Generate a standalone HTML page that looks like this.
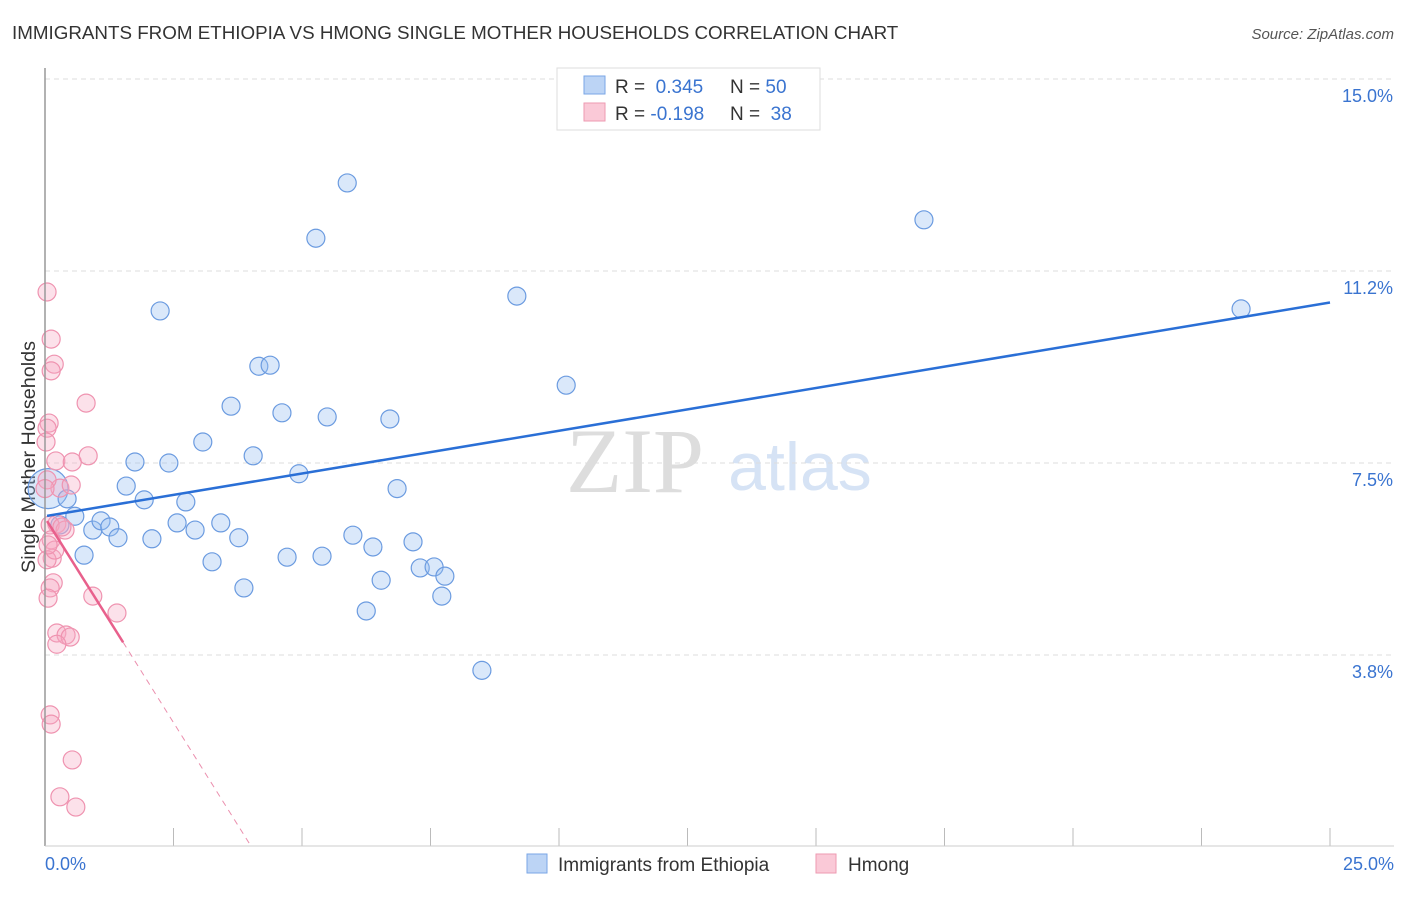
<!DOCTYPE html>
<html><head><meta charset="utf-8"><style>
body{margin:0;background:#fff;font-family:"Liberation Sans",sans-serif;}
</style></head><body>
<svg id="c" width="1406" height="892" xmlns="http://www.w3.org/2000/svg">
<text x="12" y="39" font-size="18.8" fill="#333">IMMIGRANTS FROM ETHIOPIA VS HMONG SINGLE MOTHER HOUSEHOLDS CORRELATION CHART</text>
<text x="1394" y="39" font-size="15" fill="#555" font-style="italic" text-anchor="end">Source: ZipAtlas.com</text>
<text x="35" y="457" font-size="19.8" fill="#333" transform="rotate(-90 35 457)" text-anchor="middle">Single Mother Households</text>
<text x="635" y="492" font-size="92" fill="#ddd" font-family="Liberation Serif" text-anchor="middle">ZIP</text>
<text x="800" y="490" font-size="68" fill="#d6e3f5" text-anchor="middle">atlas</text>
<g id="grid"></g><g id="pts"></g><g id="lines"></g>
<line x1="45" y1="68" x2="45" y2="846" stroke="#999" stroke-width="1.5"/>
<line x1="45" y1="846" x2="1394" y2="846" stroke="#ccc"/>
<text x="45" y="870" font-size="18" fill="#3a74d0">0.0%</text>
<text x="1394" y="870" font-size="18" fill="#3a74d0" text-anchor="end">25.0%</text>
<g>
<rect x="557" y="68" width="263" height="62" fill="#fff" stroke="#ddd"/>
<rect x="584" y="76" width="21" height="18" fill="#bcd4f5" stroke="#7aa6e6"/>
<rect x="584" y="103" width="21" height="18" fill="#fac9d7" stroke="#ee9ab2"/>
<text x="615" y="93" font-size="19" fill="#333">R = <tspan fill="#3a74d0">&#160;0.345</tspan><tspan x="730">N = </tspan><tspan fill="#3a74d0">50</tspan></text>
<text x="615" y="120" font-size="19" fill="#333">R = <tspan fill="#3a74d0">-0.198</tspan><tspan x="730">N = </tspan><tspan fill="#3a74d0">&#160;38</tspan></text>
</g>
<g>
<rect x="527" y="854" width="20" height="19" fill="#bcd4f5" stroke="#7aa6e6"/>
<text x="558" y="871" font-size="19" fill="#333">Immigrants from Ethiopia</text>
<rect x="816" y="854" width="20" height="19" fill="#fac9d7" stroke="#ee9ab2"/>
<text x="848" y="871" font-size="19" fill="#333">Hmong</text>
</g>
</svg>
<script>
const yTicks=[15.0,11.25,7.5,3.75];
const yTickLabels=["15.0%","11.2%","7.5%","3.8%"];
const xTicks=[2.5,5,7.5,10,12.5,15,17.5,20,22.5,25];
const ethX=[0.06,0.43,0.58,0.76,0.93,1.09,1.26,1.42,1.58,1.75,1.93,2.08,2.24,2.41,2.57,2.74,2.92,3.07,3.25,3.42,3.62,3.77,3.87,4.05,4.16,4.38,4.61,4.71,4.94,5.27,5.39,5.49,5.88,5.99,6.25,6.38,6.54,6.71,6.85,7.16,7.30,7.57,7.72,7.78,8.50,9.18,10.14,17.10,23.27,0.29];
const ethY=[7.0,6.8,6.46,5.7,6.19,6.37,6.25,6.04,7.05,7.52,6.78,6.02,10.47,7.50,6.33,6.74,6.19,7.91,5.57,6.33,8.61,6.04,5.06,7.64,9.39,9.41,8.48,5.66,7.29,11.89,5.68,8.40,12.97,6.09,4.61,5.86,5.21,8.36,7.00,5.96,5.45,5.47,4.90,5.29,3.45,10.76,9.02,12.25,10.51,6.29];
const hmX=[0.04,0.12,0.18,0.12,0.08,0.04,0.02,0.80,0.21,0.84,0.53,0.29,0.51,0.04,0.23,0.10,0.39,0.12,0.14,0.04,0.16,0.10,0.06,0.93,1.40,0.23,0.41,0.49,0.23,0.10,0.12,0.53,0.29,0.60,0.19,0.06,0.33,0.0];
const hmY=[10.84,9.92,9.43,9.3,8.28,8.18,7.91,8.67,7.54,7.64,7.52,7.01,7.07,7.17,6.31,6.29,6.19,6.0,5.64,5.61,5.16,5.06,4.86,4.90,4.57,4.18,4.14,4.10,3.96,2.58,2.40,1.70,0.98,0.78,5.80,5.90,6.25,7.0];
const ethFit=[6.46,0.167];
const hmFit=[6.43,-1.6];
const solidEndHm=1.52, dashEndHm=3.99;
const X=v=>45+v*51.4, Y=v=>847-v*51.2;
const NS="http://www.w3.org/2000/svg";
function mk(t,a,p){const e=document.createElementNS(NS,t);for(const k in a)e.setAttribute(k,a[k]);document.getElementById(p).appendChild(e);return e;}
yTicks.forEach((t,i)=>{
 const l=mk('line',{x1:45,x2:1394,y1:Y(t),y2:Y(t),stroke:'#ddd','stroke-dasharray':'5,4'},'grid');
 
 
 const tx=mk('text',{x:1393,y:Y(t)+23,'font-size':18,fill:'#3a74d0','text-anchor':'end'},'grid');
 tx.textContent=yTickLabels[i];
 
 
});
xTicks.forEach(t=>{
 const l=mk('line',{x1:X(t),x2:X(t),y1:828,y2:846,stroke:'#bbb'},'grid');
 
 
});
ethX.forEach((x,i)=>{
 const c=mk('circle',{cx:X(x),cy:Y(ethY[i]),r:i==0?20:9,fill:'rgba(150,190,240,0.35)',stroke:'#6b9be0','stroke-width':1.2},'pts');
 
 
});
hmX.forEach((x,i)=>{
 const c=mk('circle',{cx:X(x),cy:Y(hmY[i]),r:9,fill:'rgba(245,170,195,0.35)',stroke:'#ef93b0','stroke-width':1.2},'pts');
 
 
});
const bl=mk('line',{x1:X(0.04),y1:Y(ethFit[0]+ethFit[1]*0.04),x2:X(25),y2:Y(ethFit[0]+ethFit[1]*25),stroke:'#2a6fd6','stroke-width':2.5},'lines');


const pl=mk('line',{x1:X(0.04),y1:Y(hmFit[0]+hmFit[1]*0.04),x2:X(solidEndHm),y2:Y(hmFit[0]+hmFit[1]*solidEndHm),stroke:'#e8608c','stroke-width':2.5},'lines');


const pd=mk('line',{x1:X(solidEndHm),y1:Y(hmFit[0]+hmFit[1]*solidEndHm),x2:X(dashEndHm),y2:Y(hmFit[0]+hmFit[1]*dashEndHm),stroke:'#eb8fae','stroke-width':1,'stroke-dasharray':'6,5'},'lines');


</script>
</body></html>
